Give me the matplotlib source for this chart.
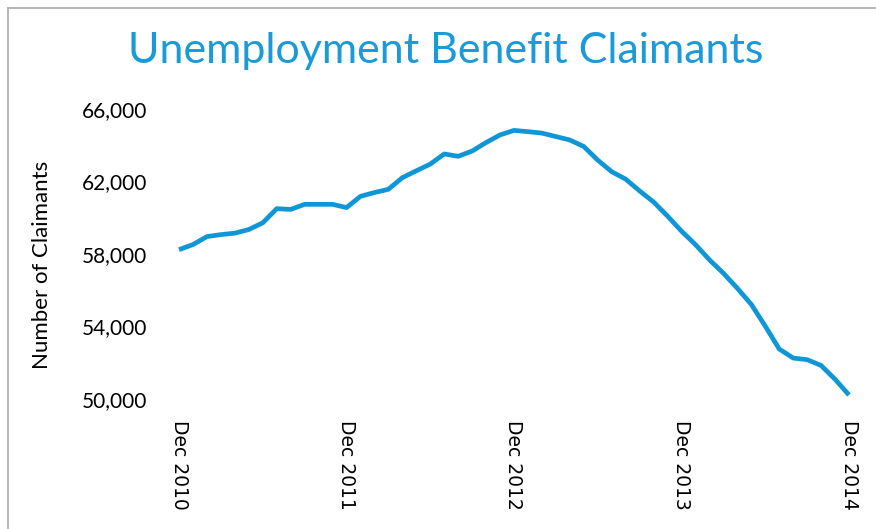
import matplotlib.pyplot as plt
import numpy as np
from matplotlib.lines import Line2D

# Monthly claimant counts, Dec 2010 .. Dec 2014
claimants = [58240, 58520, 58960, 59070, 59150, 59350, 59720, 60500, 60460, 60740,
             60740, 60740, 60560, 61180, 61390, 61570, 62210, 62590, 62960, 63520,
             63390, 63680, 64150, 64570, 64820, 64750, 64670, 64480, 64290, 63930,
             63180, 62540, 62130, 61480, 60870, 60090, 59260, 58520, 57680, 56940,
             56110, 55220, 54020, 52760, 52260, 52170, 51850, 51090, 50220]
tick_labels = ['Dec 2010', 'Dec 2011', 'Dec 2012', 'Dec 2013', 'Dec 2014']
y_ticks = [50000, 54000, 58000, 62000, 66000]

W, H = 876, 529
fig = plt.figure(figsize=(W / 100, H / 100), dpi=100)
ax = fig.add_axes([179 / W, (H - 399) / H, (849 - 179) / W, (399 - 109) / H])

x = np.arange(len(claimants))
ax.plot(x, claimants, color='#0f96d6', linewidth=3.4, solid_capstyle='butt', clip_on=False)

ax.set_xlim(0, len(claimants) - 1)
ax.set_ylim(50000, 66000)
ax.set_xticks(x[::12])
ax.set_xticklabels(tick_labels, rotation=270, fontsize=13.5, color='#000000')
ax.set_yticks(y_ticks)
ax.set_yticklabels([f'{v:,}' for v in y_ticks], fontsize=15, color='#000000', family='Lato')
ax.tick_params(axis='x', length=0, pad=15)
ax.tick_params(axis='y', length=0, pad=23)
for s in ax.spines.values():
    s.set_visible(False)

fig.text(42 / W, 1 - 265 / H, 'Number of Claimants', rotation=90, ha='center', va='center',
         fontsize=16, color='#000000', family='Lato')
fig.text(446 / W, 1 - 51 / H, 'Unemployment Benefit Claimants', ha='center', va='center',
         fontsize=31, color='#1a9ad8', family='Lato')

# grey frame on the left and top edge
fig.add_artist(Line2D([8 / W, 8 / W], [0, 1 - 8 / H], color='#aaaaaa', linewidth=1.2))
fig.add_artist(Line2D([8 / W, 1], [1 - 8 / H, 1 - 8 / H], color='#aaaaaa', linewidth=1.2))

fig.savefig('out.png', dpi=100)
